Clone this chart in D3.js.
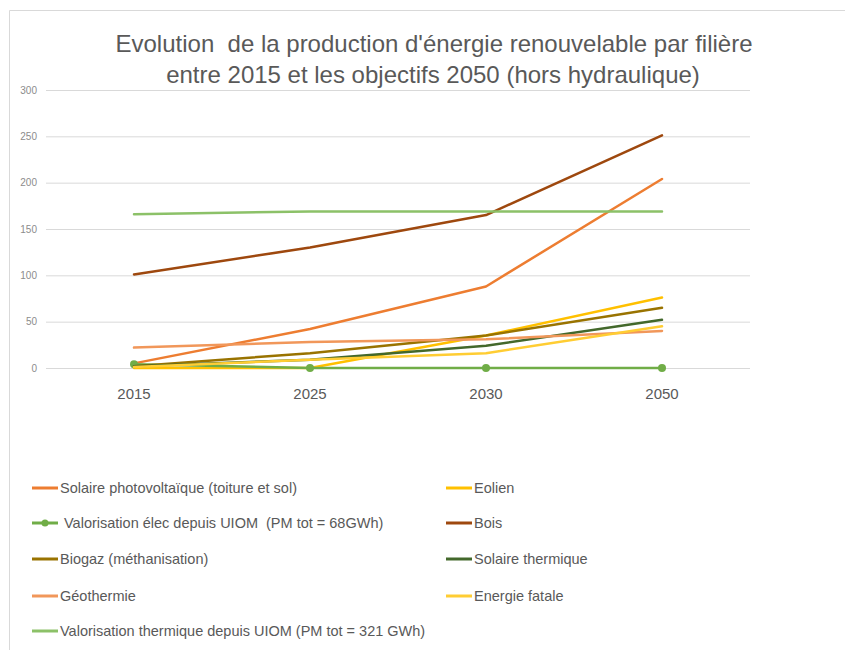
<!DOCTYPE html>
<html>
<head>
<meta charset="utf-8">
<script src="https://cdn.jsdelivr.net/npm/d3@7"></script>
<style>
body { margin: 0; background: #fff; }
text { font-family: "Liberation Sans", Arial, sans-serif; white-space: pre; }
</style>
</head>
<body>
<svg id="chart"></svg>
<script>
var years = ["2015", "2025", "2030", "2050"];
var yTicks = [0, 50, 100, 150, 200, 250, 300];

var solairePV = [5, 42, 88, 204];
var eolien = [0, 0, 35, 76];
var valoElec = [4, 0, 0, 0];
var bois = [101, 130, 165, 251];
var biogaz = [2, 16, 35, 65];
var solaireTherm = [2, 9, 24, 52];
var geothermie = [22, 28, 31, 40];
var energieFatale = [1, 9, 16, 45];
var valoTherm = [166, 169, 169, 169];

var seriesNames = [
    "Solaire photovoltaïque (toiture et sol)",
    "Eolien",
    " Valorisation élec depuis UIOM  (PM tot = 68GWh)",
    "Bois",
    "Biogaz (méthanisation)",
    "Solaire thermique",
    "Géothermie",
    "Energie fatale",
    "Valorisation thermique depuis UIOM (PM tot = 321 GWh)"
];
var seriesColors = ["#ED7D31", "#FFC000", "#70AD47", "#9E480E", "#997300", "#43682B", "#F1975A", "#FFCD33", "#8CC168"];
var seriesValues = [solairePV, eolien, valoElec, bois, biogaz, solaireTherm, geothermie, energieFatale, valoTherm];

var series = seriesNames.map((name, i) => ({
    name: name,
    color: seriesColors[i],
    values: seriesValues[i],
    marker: i === 2
}));

var svg = d3.select("#chart")
    .attr("width", 845)
    .attr("height", 650);

// chart frame
svg.append("path")
    .attr("d", "M9.5,650 V10.5 H845")
    .attr("fill", "none")
    .attr("stroke", "#d9d9d9");

// title
var title = svg.append("text")
    .attr("text-anchor", "middle")
    .attr("fill", "#595959")
    .style("font-size", "24px");
title.append("tspan").attr("x", 434).attr("y", 52).text("Evolution  de la production d'énergie renouvelable par filière");
title.append("tspan").attr("x", 433).attr("y", 83).text("entre 2015 et les objectifs 2050 (hors hydraulique)");

var xScale = d3.scaleBand().domain(years).range([46, 750]);
var yScale = d3.scaleLinear().domain([0, 300]).range([368, 90]);

// gridlines
svg.append("g")
    .attr("class", "grid")
    .selectAll("line")
    .data(yTicks)
    .enter().append("line")
    .attr("x1", 46)
    .attr("x2", 750)
    .attr("y1", d => yScale(d) + 0.5)
    .attr("y2", d => yScale(d) + 0.5)
    .attr("stroke", "#d9d9d9")
    .attr("stroke-width", 1);

// y axis
var yAxis = svg.append("g")
    .attr("transform", "translate(37,0)")
    .call(d3.axisLeft(yScale).tickValues(yTicks).tickSize(0).tickPadding(0));
yAxis.select(".domain").remove();
yAxis.selectAll("text")
    .attr("fill", "#8c8c8c")
    .style("font-size", "10px");

// x axis
var xAxis = svg.append("g")
    .attr("transform", "translate(0,388)")
    .call(d3.axisBottom(xScale).tickSize(0).tickPadding(0));
xAxis.select(".domain").remove();
xAxis.selectAll("text")
    .attr("fill", "#595959")
    .style("font-size", "15px");

var xPos = d => xScale(d) + xScale.bandwidth() / 2;

var line = d3.line()
    .x((d, i) => xPos(years[i]))
    .y(d => yScale(d));

var lines = svg.append("g").attr("class", "lines");

series.forEach(s => {
    lines.append("path")
        .datum(s.values)
        .attr("d", line)
        .attr("fill", "none")
        .attr("stroke", s.color)
        .attr("stroke-width", 2.5)
        .attr("stroke-linejoin", "round")
        .attr("stroke-linecap", "round");
    if (s.marker) {
        lines.selectAll(".marker")
            .data(s.values)
            .enter().append("circle")
            .attr("cx", (d, i) => xPos(years[i]))
            .attr("cy", d => yScale(d))
            .attr("r", 4)
            .attr("fill", s.color);
    }
});

// legend
var legendX = [32, 446];
var legendY = [488, 523, 559, 596, 631];

var legend = svg.append("g")
    .attr("class", "legend")
    .selectAll("g")
    .data(series)
    .enter().append("g")
    .attr("transform", (d, i) => "translate(" + legendX[i % 2] + "," + legendY[Math.floor(i / 2)] + ")");

legend.append("line")
    .attr("x1", 0)
    .attr("x2", 26)
    .attr("y1", 0)
    .attr("y2", 0)
    .attr("stroke", d => d.color)
    .attr("stroke-width", 3);

legend.filter(d => d.marker).append("circle")
    .attr("cx", 13)
    .attr("cy", 0)
    .attr("r", 3.5)
    .attr("fill", d => d.color);

legend.append("text")
    .attr("x", 28)
    .attr("y", 0)
    .attr("dy", "0.35em")
    .attr("fill", "#595959")
    .style("font-size", "14.5px")
    .text(d => d.name);
</script>
</body>
</html>
